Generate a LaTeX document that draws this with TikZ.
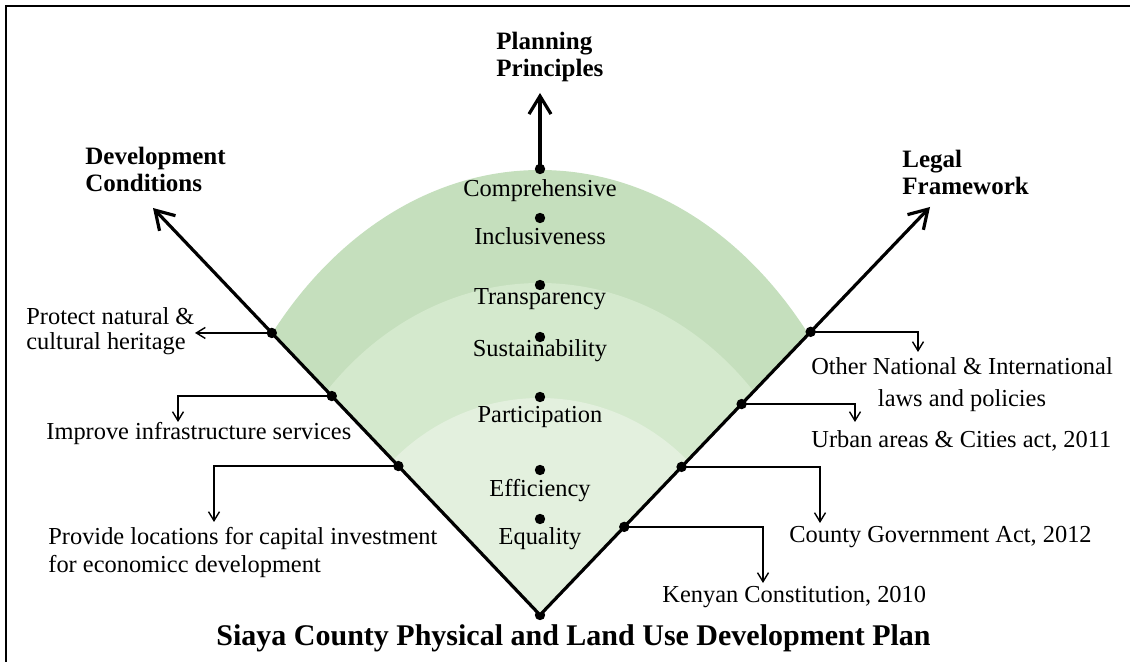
\documentclass[tikz,border=0pt]{standalone}
\usepackage{fontspec}
\setmainfont{Liberation Serif}
\usetikzlibrary{arrows.meta,calc,positioning}
\definecolor{bandouter}{RGB}{197,223,189}
\definecolor{bandmid}{RGB}{212,233,205}
\definecolor{bandinner}{RGB}{227,240,222}

\begin{document}
\begin{tikzpicture}[x=0.5pt,y=-0.5pt,
    dot/.style={circle,fill=black,inner sep=0pt,minimum size=5.2pt},
    axis/.style={line width=1.6pt,-{Straight Barb[length=9pt,width=11pt]}},
    conn/.style={line width=0.7pt,-{Straight Barb[length=4.5pt,width=5.5pt]}},
    txt/.style={font=\fontsize{12.2}{14}\selectfont,inner sep=0pt},
    head/.style={font=\fontsize{12.5}{13.5}\selectfont\bfseries,inner sep=0pt,align=left}
  ]
  \useasboundingbox (0,0) rectangle (1130,662);

  % the frame
  \draw[line width=1pt] (6,662) -- (6,6) -- (1130,6);

  % the three axes
  \node[dot] (apex) at (540,615) {};
  \coordinate (ltip) at (153,208);
  \coordinate (rtip) at (930,207);
  \coordinate (ttip) at (540,93);

  % the bands
  \begin{scope}
    \clip (apex.center) -- ($(apex)!1.6!(ltip)$) -- ($(apex)!1.6!(rtip)$) -- cycle;
    \fill[bandouter] (apex.center) ellipse [x radius=173pt, y radius=222.5pt];
    \fill[bandmid] (apex.center) ellipse [x radius=144.5pt, y radius=166pt];
    \fill[bandinner] (apex.center) ellipse [x radius=105pt, y radius=108.5pt];
  \end{scope}

  \draw[axis] (apex.center) -- (ltip);
  \draw[axis] (apex.center) -- (rtip);

  % the planning principles
  \foreach \y/\b/\t [count=\i] in {169/197/Comprehensive, 218/245/Inclusiveness,
      285/305/Transparency, 337/357/Sustainability, 397/423/Participation,
      470/496/Efficiency, 519/545/Equality}
  {
    \node[dot] (pd\i) at (540,\y) {};
    \node[txt,anchor=base] (pt\i) at (540,\b) {\t};
  }
  \draw[axis] (pd1.center) -- (ttip);

  % the headings (base = last line)
  \node[head,anchor=base west] (hplan) at (496,77) {Planning\\Principles};
  \node[head,anchor=base west] (hdev) at (85,192) {Development\\Conditions};
  \node[head,anchor=base west] (hlegal) at (902,195) {Legal\\Framework};

  % the development conditions
  \path (apex.center) -- (ltip)
    node[dot,pos=0.693] (lp1) {}
    node[dot,pos=0.538] (lp2) {}
    node[dot,pos=0.366] (lp3) {};
  \node[txt,font=\fontsize{12.2}{12.8}\selectfont,anchor=base west,align=left] (lt1) at (26,350) {Protect natural \&\\cultural heritage};
  \node[txt,anchor=base west] (lt2) at (46,440) {Improve infrastructure services};
  \node[txt,anchor=base west,align=left] (lt3) at (48,573) {Provide locations for capital investment\\for economicc development};
  \coordinate (la1) at (195,0);
  \coordinate (la2) at (178,422);
  \coordinate (la3) at (214,522);
  \draw[conn] (lp1.center) -- (lp1 -| la1);
  \draw[conn] (lp2.center) -| (la2);
  \draw[conn] (lp3.center) -| (la3);

  % the legal framework
  \path (apex.center) -- (rtip)
    node[dot,pos=0.694] (rp1) {}
    node[dot,pos=0.517] (rp2) {}
    node[dot,pos=0.363] (rp3) {}
    node[dot,pos=0.216] (rp4) {};
  \node[txt,font=\fontsize{12.2}{16}\selectfont,anchor=base,align=center] (rt1) at (962,407) {Other National \& International\\laws and policies};
  \node[txt,anchor=base west] (rt2) at (811,448) {Urban areas \& Cities act, 2011};
  \node[txt,anchor=base west] (rt3) at (789,543) {County Government Act, 2012};
  \node[txt,anchor=base west] (rt4) at (662,603) {Kenyan Constitution, 2010};
  \coordinate (ra1) at (918,352);
  \coordinate (ra2) at (855,422);
  \coordinate (ra3) at (820,523);
  \coordinate (ra4) at (763,583);
  \draw[conn] (rp1.center) -| (ra1);
  \draw[conn] (rp2.center) -| (ra2);
  \draw[conn] (rp3.center) -| (ra3);
  \draw[conn] (rp4.center) -| (ra4);

  % the title
  \node[font=\fontsize{15}{17}\selectfont\bfseries,inner sep=0pt,anchor=base west] (title) at (216,645)
    {Siaya County Physical and Land Use Development Plan};
\end{tikzpicture}
\end{document}
